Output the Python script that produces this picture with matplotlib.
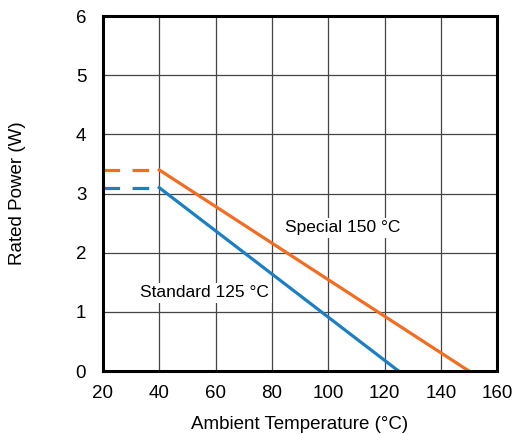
import matplotlib.pyplot as plt

plt.rcParams['font.family'] = ['Liberation Sans', 'DejaVu Sans']

# derating curves
std_x = [40, 125]
std_y = [3.1, 0]
std_flat_x = [20, 40]
std_flat_y = [3.1, 3.1]

spc_x = [40, 150]
spc_y = [3.4, 0]
spc_flat_x = [20, 40]
spc_flat_y = [3.4, 3.4]

x_ticks = [20, 40, 60, 80, 100, 120, 140, 160]
y_ticks = [0, 1, 2, 3, 4, 5, 6]

orange = '#f26d21'
blue = '#1b7fc3'

fig = plt.figure(figsize=(5.12, 4.34), dpi=100)
ax = fig.add_axes([0.201, 0.145, 0.770, 0.818])

ax.plot(spc_flat_x, spc_flat_y, color=orange, linewidth=2.3, linestyle=(0, (5.2, 3.9)))
ax.plot(spc_x, spc_y, color=orange, linewidth=2.3)
ax.plot(std_flat_x, std_flat_y, color=blue, linewidth=2.3, linestyle=(0, (5.2, 3.9)))
ax.plot(std_x, std_y, color=blue, linewidth=2.3)

ax.text(105, 2.42, "Special 150 °C", fontsize=12.5, ha='center', va='center',
        bbox=dict(facecolor='white', edgecolor='none', pad=2))
ax.text(56, 1.32, "Standard 125 °C", fontsize=12.5, ha='center', va='center',
        bbox=dict(facecolor='white', edgecolor='none', pad=2))

ax.set_xlim(20, 160)
ax.set_ylim(0, 6)
ax.set_xticks(x_ticks)
ax.set_yticks(y_ticks)
ax.tick_params(length=0, labelsize=13.5)
ax.tick_params(axis='x', pad=10)
ax.tick_params(axis='y', pad=12)

ax.grid(True, color='#444444', linewidth=0.9)
ax.set_axisbelow(True)
for sp in ax.spines.values():
    sp.set_linewidth(2.2)
    sp.set_color('black')

ax.set_xlabel("Ambient Temperature (°C)", fontsize=13.5, labelpad=10)
ax.set_ylabel("Rated Power (W)", fontsize=13.5, labelpad=36)

fig.savefig("out.png", dpi=100)
